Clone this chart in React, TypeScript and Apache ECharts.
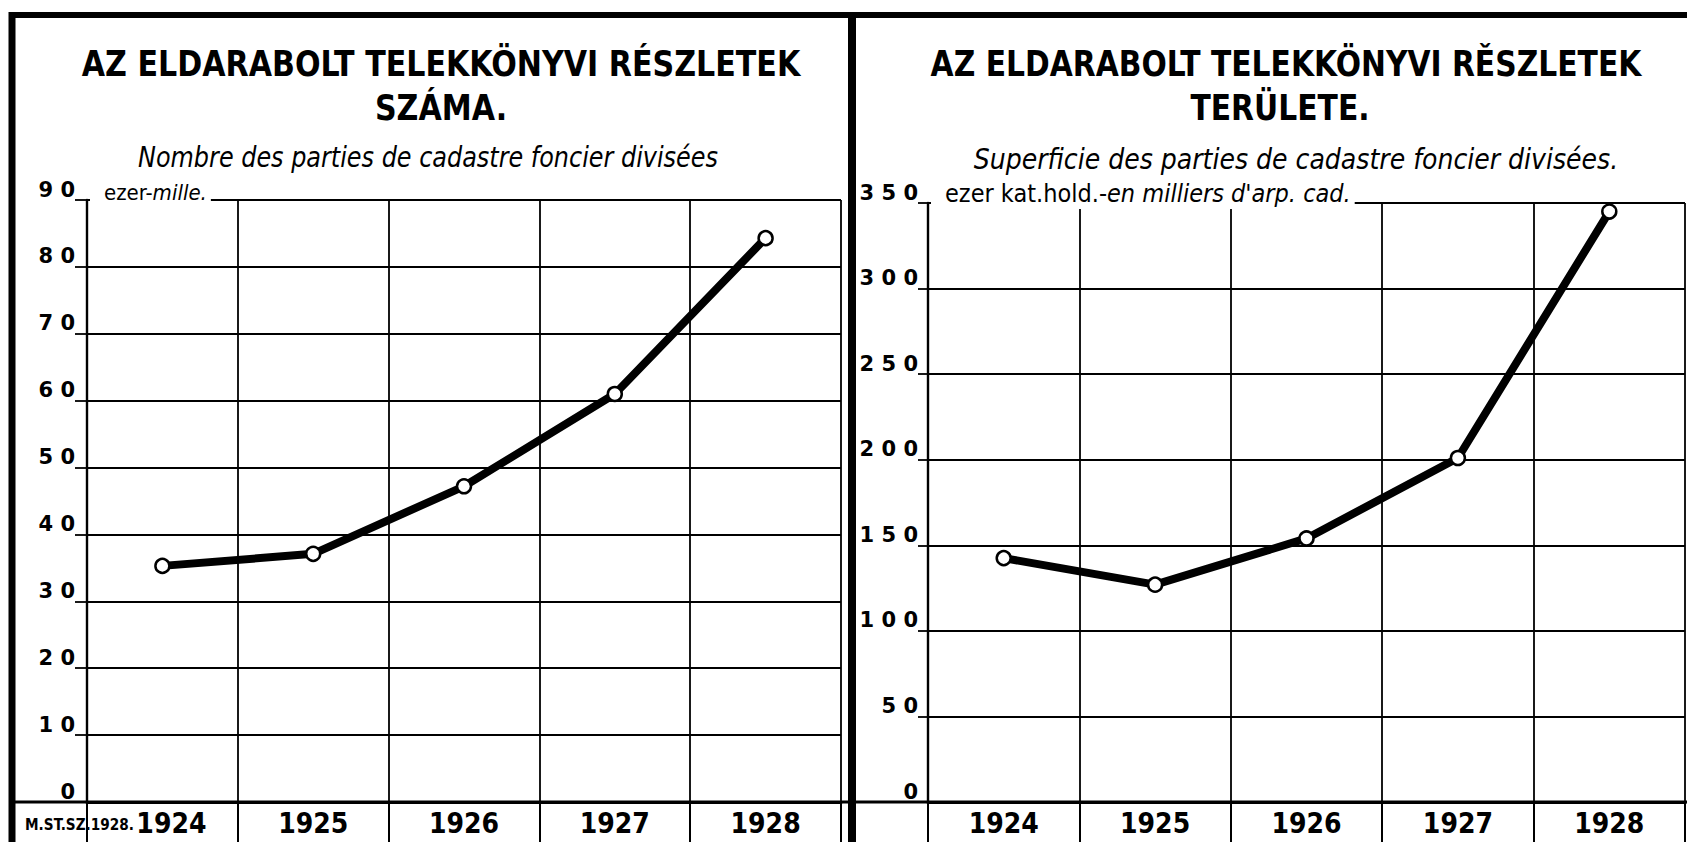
import React, { useEffect, useRef } from 'react';
import * as echarts from 'echarts';

const years = ['1924', '1925', '1926', '1927', '1928'];
const partsCount = [35.3, 37.1, 47.2, 61.0, 84.3];
const partsArea = [142.5, 127, 154, 201, 345];
const countTicks = { min: 0, max: 90, interval: 10 };
const areaTicks = { min: 0, max: 350, interval: 50 };

const leftTitle = ['AZ ELDARABOLT TELEKKÖNYVI RÉSZLETEK', 'SZÁMA.'];
const leftSubtitle = 'Nombre des parties de cadastre foncier divisées';
const rightTitle = ['AZ ELDARABOLT TELEKKÖNYVI RĚSZLETEK', 'TERÜLETE.'];
const rightSubtitle = 'Superficie des parties de cadastre foncier divisées.';
const leftUnit = ['ezer-', 'mille.'];
const rightUnit = ['ezer kat.hold.-', "en milliers d'arp. cad."];
const sourceNote = 'M.ST.SZ.1928.';

const NARROW = "'DejaVu Sans Condensed', sans-serif";

function xAxisFor(gridIndex: number) {
  return {
    type: 'category',
    gridIndex,
    data: years,
    boundaryGap: true,
    axisLine: { show: true, lineStyle: { color: '#000', width: 3 } },
    axisTick: { show: true, interval: 0, length: 40, lineStyle: { color: '#000', width: 2 } },
    axisLabel: {
      interval: 0,
      hideOverlap: false,
      color: '#000',
      fontFamily: NARROW,
      fontWeight: 'bold',
      fontSize: 28,
      margin: 7,
      formatter: (v: string, i: number) => (gridIndex === 0 && i === 0 ? `{s|${v}}` : v),
      rich: {
        s: { fontFamily: NARROW, fontWeight: 'bold', fontSize: 28, color: '#000', padding: [0, 0, 0, 18] },
      },
    },
    splitLine: { show: true, interval: 0, lineStyle: { color: '#000', width: 1.8 } },
  };
}

function yAxisFor(gridIndex: number, t: { min: number; max: number; interval: number }, margin: number) {
  return {
    type: 'value',
    gridIndex,
    min: t.min,
    max: t.max,
    interval: t.interval,
    axisLine: { show: true, lineStyle: { color: '#000', width: 2.4 } },
    axisTick: { show: true, length: margin, lineStyle: { color: '#000', width: 1.8 } },
    axisLabel: {
      color: '#000',
      fontFamily: "'DejaVu Sans', sans-serif",
      fontWeight: 'bold',
      fontSize: 21,
      margin,
      verticalAlign: 'bottom',
      showMinLabel: true,
      showMaxLabel: true,
      formatter: (v: number) => String(v).split('').join(' '),
    },
    splitLine: { show: true, lineStyle: { color: '#000', width: 1.8 } },
  };
}

function lineSeries(idx: number, data: number[]) {
  return {
    type: 'line',
    xAxisIndex: idx,
    yAxisIndex: idx,
    data,
    symbol: 'circle',
    symbolSize: 14,
    showAllSymbol: true,
    lineStyle: { color: '#000', width: 8 },
    itemStyle: { color: '#fff', borderColor: '#000', borderWidth: 2.5 },
    z: 5,
  };
}

function titleText(text: string, x: number, y: number, size: number, sx: number, italic = false, weight = 'bold') {
  return {
    type: 'text',
    x,
    y,
    scaleX: sx,
    z: 100,
    style: {
      text,
      fill: '#000',
      fontFamily: NARROW,
      fontSize: size,
      fontWeight: weight,
      fontStyle: italic ? 'italic' : 'normal',
      align: 'center',
      verticalAlign: 'middle',
    },
  };
}

function unitText(parts: string[], x: number, y: number, size: number) {
  return {
    type: 'text',
    x,
    y,
    z: 100,
    style: {
      text: `{a|${parts[0]}}{b|${parts[1]}}`,
      align: 'left',
      verticalAlign: 'bottom',
      backgroundColor: '#fff',
      padding: [0, 4, 3, 14],
      rich: {
        a: { fontFamily: NARROW, fontSize: size, fill: '#000', color: '#000' },
        b: { fontFamily: NARROW, fontSize: size, fontStyle: 'italic', fill: '#000', color: '#000' },
      },
    },
  };
}

function frameLine(x1: number, y1: number, x2: number, y2: number, w: number) {
  return {
    type: 'line',
    z: 90,
    shape: { x1, y1, x2, y2 },
    style: { stroke: '#000', lineWidth: w },
  };
}

export default function App() {
  const ref = useRef<HTMLDivElement>(null);
  useEffect(() => {
    if (!ref.current) return;
    const chart = echarts.init(ref.current, undefined, { renderer: 'svg' });
    chart.setOption({
      animation: false,
      backgroundColor: '#fff',
      grid: [
        { left: 87, top: 200, width: 754, height: 602 },
        { left: 928, top: 203, width: 757, height: 599 },
      ],
      xAxis: [xAxisFor(0), xAxisFor(1)],
      yAxis: [yAxisFor(0, countTicks, 12), yAxisFor(1, areaTicks, 10)],
      series: [lineSeries(0, partsCount), lineSeries(1, partsArea)],
      graphic: [
        frameLine(9, 15, 1687, 15, 6),
        frameLine(12, 12, 12, 842, 7),
        frameLine(852, 12, 852, 842, 8),
        frameLine(9, 802, 1687, 802, 3),
        titleText(leftTitle[0], 441, 64, 36, 0.93),
        titleText(leftTitle[1], 441, 108, 36, 0.93),
        titleText(leftSubtitle, 428, 157, 28, 0.95, true, 'normal'),
        titleText(rightTitle[0], 1286, 64, 36, 0.92),
        titleText(rightTitle[1], 1280, 108, 36, 0.92),
        titleText(rightSubtitle, 1296, 159, 28, 1, true, 'normal'),
        unitText(leftUnit, 90, 206, 22),
        unitText(rightUnit, 931, 209, 25),
        {
          type: 'text',
          x: 25,
          y: 825,
          scaleX: 0.95,
          z: 100,
          style: {
            text: sourceNote,
            fill: '#000',
            fontFamily: NARROW,
            fontSize: 16,
            fontWeight: 'bold',
            align: 'left',
            verticalAlign: 'middle',
          },
        },
      ],
    });
    return () => chart.dispose();
  }, []);
  return (
    <div
      ref={ref}
      style={{ position: 'fixed', left: 0, top: 0, width: 1687, height: 842, background: '#fff' }}
    />
  );
}
